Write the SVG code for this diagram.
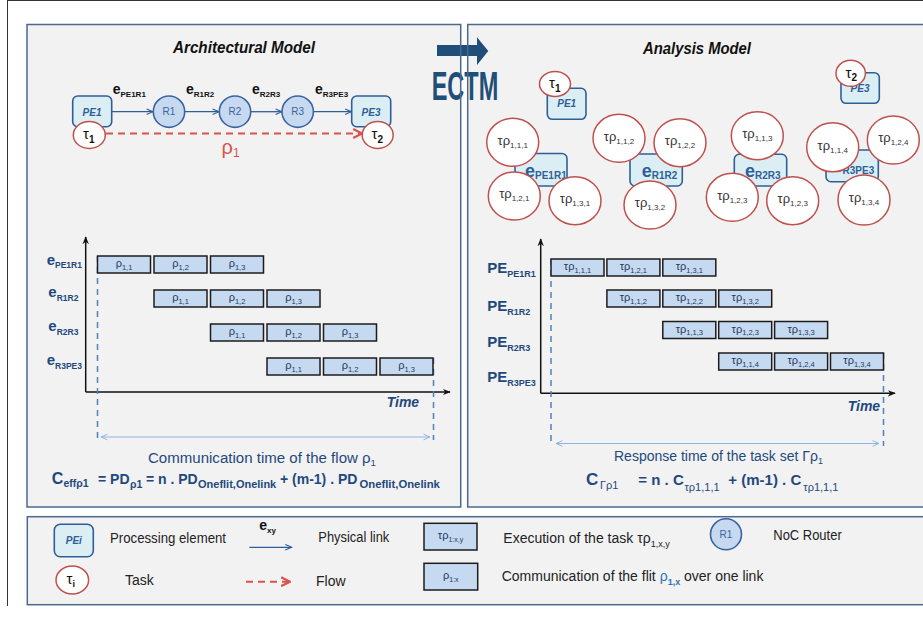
<svg xmlns="http://www.w3.org/2000/svg" width="923" height="622" viewBox="0 0 923 622">
<style>
.t{font-family:'Liberation Sans',Arial,sans-serif}
.pf{fill:#f2f2f2}
.pb{fill:none;stroke:#4a6890;stroke-width:1.5}
.pe{fill:#dbeef4;stroke:#2f5f98;stroke-width:1.6}
.pet{font-family:'Liberation Sans',Arial,sans-serif;font-style:italic;font-weight:bold;font-size:10px;fill:#2f5f98}
.task{fill:#fff;stroke:#c0504d;stroke-width:1.5}
.tt{font-family:'Liberation Sans',Arial,sans-serif;font-size:15px;fill:#111}
.rt{fill:#c6d9f1;stroke:#3a64a0;stroke-width:1.6}
.rtt{font-family:'Liberation Sans',Arial,sans-serif;font-size:10px;fill:#3a64a0}
.bar{fill:#c5d9f0;stroke:#1c1c1c;stroke-width:1.5}
.bt{font-family:'Liberation Sans',Arial,sans-serif;font-size:11px;fill:#1f3a60;text-anchor:middle}
.ct{font-family:'Liberation Sans',Arial,sans-serif;font-size:13px;fill:#333;text-anchor:middle}
.lnk{stroke:#2f5f98;stroke-width:1.3;fill:none}
.flow{stroke:#d9534f;stroke-width:2;stroke-dasharray:7 5;fill:none}
.axis{stroke:#111;stroke-width:1.5;fill:none}
.vd{stroke:#4f81bd;stroke-width:1.5;stroke-dasharray:6 5;fill:none}
.dbl{stroke:#8eb4e3;stroke-width:1.2;fill:none}
.bold{font-weight:bold}
.el{font-family:'Liberation Sans',Arial,sans-serif;font-weight:bold;font-size:14px;fill:#111}
.rowl{font-family:'Liberation Sans',Arial,sans-serif;font-weight:bold;font-size:15px;fill:#1f497d}
.eb{font-family:'Liberation Sans',Arial,sans-serif;font-weight:bold;font-size:18px;fill:#2f5f98}
.lg{font-family:'Liberation Sans',Arial,sans-serif;font-size:14px;fill:#222}
</style>
<defs>
<marker id="mLnk" viewBox="0 0 10 10" refX="9" refY="5" markerWidth="8" markerHeight="8" markerUnits="userSpaceOnUse" orient="auto"><path d="M1,1.5 L9,5 L1,8.5" fill="none" stroke="#2f5f98" stroke-width="1.4"/></marker>
<marker id="mFlow" viewBox="0 0 10 10" refX="9" refY="5" markerWidth="11" markerHeight="11" markerUnits="userSpaceOnUse" orient="auto"><path d="M1,1 L9,5 L1,9" fill="none" stroke="#d9534f" stroke-width="2"/></marker>
<marker id="mAx" viewBox="0 0 10 10" refX="9" refY="5" markerWidth="8" markerHeight="8" markerUnits="userSpaceOnUse" orient="auto"><path d="M0,1 L10,5 L0,9 L3,5 Z" fill="#111"/></marker>
<marker id="mDbl" viewBox="0 0 10 10" refX="9" refY="5" markerWidth="8" markerHeight="8" markerUnits="userSpaceOnUse" orient="auto-start-reverse"><path d="M1,1.5 L9,5 L1,8.5" fill="none" stroke="#8eb4e3" stroke-width="1.2"/></marker>
</defs>
<rect width="923" height="622" fill="#fff"/>
<line x1="7.5" y1="0" x2="7.5" y2="606" stroke="#333" stroke-width="1"/>
<line x1="7.5" y1="0.5" x2="923" y2="0.5" stroke="#333" stroke-width="1"/>

<!-- panels -->
<rect class="pf" x="27" y="24.5" width="433.7" height="482.5"/>
<rect class="pf" x="467.7" y="24.5" width="460" height="482.5"/>
<rect class="pf" x="27.3" y="516.7" width="900" height="88"/>

<!-- ECTM -->
<g id="ectm">
<polygon points="437,45 477,45 477,37.3 488.3,51 477,65 477,56 437,56" fill="#1f4e79"/>
<text class="t bold" x="431.7" y="100" font-size="40" fill="#1f4e79" textLength="66.6" lengthAdjust="spacingAndGlyphs">ECTM</text>
</g>
<rect class="pb" x="27" y="24.5" width="433.7" height="482.5"/>
<rect class="pb" x="467.7" y="24.5" width="460" height="482.5"/>
<rect class="pb" x="27.3" y="516.7" width="900" height="88"/>

<!-- titles -->
<text class="t bold" x="173" y="53" font-size="16" font-style="italic" fill="#111" textLength="142" lengthAdjust="spacingAndGlyphs">Architectural Model</text>
<text class="t bold" x="643" y="54" font-size="16" font-style="italic" fill="#111" textLength="108" lengthAdjust="spacingAndGlyphs">Analysis Model</text>

<!-- connectors (architectural model) -->
<g id="connectors">
<line class="lnk" x1="111.7" y1="111.7" x2="153" y2="111.7" marker-end="url(#mLnk)"/>
<line class="lnk" x1="185" y1="111.7" x2="219" y2="111.7" marker-end="url(#mLnk)"/>
<line class="lnk" x1="251" y1="111.7" x2="282" y2="111.7" marker-end="url(#mLnk)"/>
<line class="lnk" x1="313.5" y1="111.7" x2="351.5" y2="111.7" marker-end="url(#mLnk)"/>
<line class="flow" x1="106" y1="133.5" x2="362" y2="133.5" marker-end="url(#mFlow)"/>
</g>
<text class="el" x="112.7" y="94">e<tspan dy="3" font-size="8">PE1R1</tspan></text>
<text class="el" x="186" y="94">e<tspan dy="3" font-size="8">R1R2</tspan></text>
<text class="el" x="252" y="94">e<tspan dy="3" font-size="8">R2R3</tspan></text>
<text class="el" x="315" y="94">e<tspan dy="3" font-size="8">R3PE3</tspan></text>
<text class="t" x="221.5" y="153.5" font-size="20" fill="#d9534f">ρ<tspan dy="3.5" font-size="12">1</tspan></text>

<g id="a-pe1"><rect class="pe" x="72.7" y="96" width="39" height="30.7" rx="5"/><text class="pet" x="92" y="115.5" text-anchor="middle">PE1</text></g>
<g id="a-tau1"><ellipse class="task" cx="89.3" cy="135" rx="16" ry="13.5"/><text class="tt" x="83" y="139">τ<tspan dy="3.5" font-size="10" font-weight="bold">1</tspan></text></g>
<g id="a-r1"><circle class="rt" cx="169" cy="111.7" r="15.7"/><text class="rtt" x="169" y="115.3" text-anchor="middle">R1</text></g>
<g id="a-r2"><circle class="rt" cx="235" cy="111.7" r="15.7"/><text class="rtt" x="235" y="115.3" text-anchor="middle">R2</text></g>
<g id="a-r3"><circle class="rt" cx="297.7" cy="111.7" r="15.7"/><text class="rtt" x="297.7" y="115.3" text-anchor="middle">R3</text></g>
<g id="a-pe3"><rect class="pe" x="351.7" y="96" width="39" height="30.7" rx="5"/><text class="pet" x="371" y="115.5" text-anchor="middle">PE3</text></g>
<g id="a-tau2"><ellipse class="task" cx="377.7" cy="135" rx="15.5" ry="13.5"/><text class="tt" x="371.5" y="139">τ<tspan dy="3.5" font-size="10" font-weight="bold">2</tspan></text></g>

<!-- left gantt -->
<g id="left-gantt">
<line class="axis" x1="85.7" y1="392" x2="85.7" y2="237" marker-end="url(#mAx)"/>
<line class="axis" x1="85.7" y1="392" x2="450" y2="392" marker-end="url(#mAx)"/>
<line class="vd" x1="97.5" y1="256" x2="97.5" y2="440"/>
<line class="vd" x1="433.5" y1="358" x2="433.5" y2="440"/>
<line class="dbl" x1="101" y1="437" x2="430" y2="437" marker-start="url(#mDbl)" marker-end="url(#mDbl)"/>
<text class="rowl" x="46.7" y="264.5">e<tspan dy="3.5" font-size="8.5">PE1R1</tspan></text>
<text class="rowl" x="48.3" y="297">e<tspan dy="3.5" font-size="8.5">R1R2</tspan></text>
<text class="rowl" x="48.3" y="331">e<tspan dy="3.5" font-size="8.5">R2R3</tspan></text>
<text class="rowl" x="46.7" y="365">e<tspan dy="3.5" font-size="8.5">R3PE3</tspan></text>
<rect class="bar" x="97.5" y="256" width="53" height="17"/><text class="bt" x="124" y="267">ρ<tspan dy="2.5" font-size="7.5">1,1</tspan></text>
<rect class="bar" x="154" y="256" width="53" height="17"/><text class="bt" x="180.5" y="267">ρ<tspan dy="2.5" font-size="7.5">1,2</tspan></text>
<rect class="bar" x="210.5" y="256" width="53" height="17"/><text class="bt" x="237" y="267">ρ<tspan dy="2.5" font-size="7.5">1,3</tspan></text>
<rect class="bar" x="154" y="290" width="53" height="17"/><text class="bt" x="180.5" y="301">ρ<tspan dy="2.5" font-size="7.5">1,1</tspan></text>
<rect class="bar" x="210.5" y="290" width="53" height="17"/><text class="bt" x="237" y="301">ρ<tspan dy="2.5" font-size="7.5">1,2</tspan></text>
<rect class="bar" x="267" y="290" width="53" height="17"/><text class="bt" x="293.5" y="301">ρ<tspan dy="2.5" font-size="7.5">1,3</tspan></text>
<rect class="bar" x="210.5" y="324" width="53" height="17"/><text class="bt" x="237" y="335">ρ<tspan dy="2.5" font-size="7.5">1,1</tspan></text>
<rect class="bar" x="267" y="324" width="53" height="17"/><text class="bt" x="293.5" y="335">ρ<tspan dy="2.5" font-size="7.5">1,2</tspan></text>
<rect class="bar" x="323.5" y="324" width="53" height="17"/><text class="bt" x="350" y="335">ρ<tspan dy="2.5" font-size="7.5">1,3</tspan></text>
<rect class="bar" x="267" y="358" width="53" height="17"/><text class="bt" x="293.5" y="369">ρ<tspan dy="2.5" font-size="7.5">1,1</tspan></text>
<rect class="bar" x="323.5" y="358" width="53" height="17"/><text class="bt" x="350" y="369">ρ<tspan dy="2.5" font-size="7.5">1,2</tspan></text>
<rect class="bar" x="380" y="358" width="53" height="17"/><text class="bt" x="406.5" y="369">ρ<tspan dy="2.5" font-size="7.5">1,3</tspan></text>
<text class="t bold" x="386.7" y="406.5" font-size="14" font-style="italic" fill="#1f497d">Time</text>
</g>
<text class="t" x="148" y="463" font-size="14" fill="#1f497d" textLength="228" lengthAdjust="spacingAndGlyphs">Communication time of the flow ρ<tspan dy="3" font-size="9">1</tspan></text>
<text class="t bold" y="483.5" font-size="14" fill="#1f497d"><tspan x="51.7" font-size="16">C</tspan><tspan x="63.5" dy="3.5" font-size="10.5">effρ1</tspan><tspan x="98" dy="-3.5">= PD</tspan><tspan x="130" dy="4" font-size="10.5">ρ1</tspan><tspan x="146" dy="-4">= n . PD</tspan><tspan x="198" dy="4" font-size="11">Oneflit,Onelink</tspan><tspan x="280" dy="-4">+ (m-1) . PD</tspan><tspan x="359.5" dy="4" font-size="11.3">Oneflit,Onelink</tspan></text>

<!-- right analysis model: boxes -->
<g id="b-pe1"><rect class="pe" x="547.3" y="88.3" width="38.7" height="31" rx="5"/><text class="pet" x="566.7" y="107.3" text-anchor="middle">PE1</text></g>
<g id="b-pe3"><rect class="pe" x="841" y="72.7" width="38.3" height="30.6" rx="5"/><text class="pet" x="860" y="92" text-anchor="middle">PE3</text></g>
<g id="b-e1"><rect class="pe" x="515" y="153.5" width="52" height="32.5" rx="5"/><text class="eb" x="525" y="177">e<tspan dy="2" font-size="10">PE1R1</tspan></text></g>
<g id="b-e2"><rect class="pe" x="630" y="154" width="52.3" height="32" rx="5"/><text class="eb" x="641.7" y="177">e<tspan dy="2" font-size="10">R1R2</tspan></text></g>
<g id="b-e3"><rect class="pe" x="734.3" y="154.3" width="52.4" height="31.7" rx="5"/><text class="eb" x="745" y="177">e<tspan dy="2" font-size="10">R2R3</tspan></text></g>
<g id="b-e4"><rect class="pe" x="826" y="150" width="52.3" height="31.7" rx="5"/><text class="eb" x="832.5" y="172">e<tspan dy="2" font-size="10">R3PE3</tspan></text></g>
<g id="b-tau1"><ellipse class="task" cx="555" cy="84" rx="15.5" ry="12.5"/><text class="tt" x="549" y="88">τ<tspan dy="3.5" font-size="10" font-weight="bold">1</tspan></text></g>
<g id="b-tau2"><ellipse class="task" cx="850.7" cy="73.3" rx="14.7" ry="13"/><text class="tt" x="845.5" y="77.5">τ<tspan dy="3.5" font-size="10" font-weight="bold">2</tspan></text></g>
<g id="c111"><ellipse class="task" cx="512.7" cy="142.3" rx="26" ry="24"/><text class="ct" x="512.7" y="144.5">τρ<tspan dy="3" font-size="8">1,1,1</tspan></text></g>
<g id="c121"><ellipse class="task" cx="514.3" cy="196" rx="26" ry="24"/><text class="ct" x="514.3" y="198.2">τρ<tspan dy="3" font-size="8">1,2,1</tspan></text></g>
<g id="c131"><ellipse class="task" cx="575" cy="200.7" rx="26" ry="24"/><text class="ct" x="575" y="202.9">τρ<tspan dy="3" font-size="8">1,3,1</tspan></text></g>
<g id="c112"><ellipse class="task" cx="619" cy="138.3" rx="26" ry="24"/><text class="ct" x="619" y="140.5">τρ<tspan dy="3" font-size="8">1,1,2</tspan></text></g>
<g id="c122"><ellipse class="task" cx="680" cy="142.7" rx="26" ry="24"/><text class="ct" x="680" y="144.9">τρ<tspan dy="3" font-size="8">1,2,2</tspan></text></g>
<g id="c132"><ellipse class="task" cx="650" cy="205" rx="26" ry="24"/><text class="ct" x="650" y="207.2">τρ<tspan dy="3" font-size="8">1,3,2</tspan></text></g>
<g id="c113"><ellipse class="task" cx="757.3" cy="135.7" rx="26" ry="24"/><text class="ct" x="757.3" y="137.9">τρ<tspan dy="3" font-size="8">1,1,3</tspan></text></g>
<g id="c123"><ellipse class="task" cx="732.3" cy="197.3" rx="26" ry="24"/><text class="ct" x="732.3" y="199.5">τρ<tspan dy="3" font-size="8">1,2,3</tspan></text></g>
<g id="c123b"><ellipse class="task" cx="792.7" cy="200.7" rx="26" ry="24"/><text class="ct" x="792.7" y="202.9">τρ<tspan dy="3" font-size="8">1,2,3</tspan></text></g>
<g id="c114"><ellipse class="task" cx="832.7" cy="147.3" rx="26" ry="24.5"/><text class="ct" x="832.7" y="149.5">τρ<tspan dy="3" font-size="8">1,1,4</tspan></text></g>
<g id="c124"><ellipse class="task" cx="893.3" cy="140" rx="26" ry="24"/><text class="ct" x="893.3" y="142.2">τρ<tspan dy="3" font-size="8">1,2,4</tspan></text></g>
<g id="c134"><ellipse class="task" cx="864" cy="200" rx="26" ry="25"/><text class="ct" x="864" y="202.2">τρ<tspan dy="3" font-size="8">1,3,4</tspan></text></g>

<!-- right gantt -->
<g id="right-gantt">
<line class="axis" x1="540.7" y1="393.3" x2="540.7" y2="239" marker-end="url(#mAx)"/>
<line class="axis" x1="540.7" y1="393.3" x2="895" y2="393.3" marker-end="url(#mAx)"/>
<line class="vd" x1="551" y1="259" x2="551" y2="446"/>
<line class="vd" x1="883.5" y1="353" x2="883.5" y2="446"/>
<line class="dbl" x1="556" y1="443.5" x2="879" y2="443.5" marker-start="url(#mDbl)" marker-end="url(#mDbl)"/>
<text class="rowl" x="487.3" y="273.3">PE<tspan dy="4" font-size="9">PE1R1</tspan></text>
<text class="rowl" x="487.3" y="311">PE<tspan dy="4" font-size="9">R1R2</tspan></text>
<text class="rowl" x="487.3" y="346.7">PE<tspan dy="4" font-size="9">R2R3</tspan></text>
<text class="rowl" x="487.3" y="381.7">PE<tspan dy="4" font-size="9">R3PE3</tspan></text>
<rect class="bar" x="551" y="259" width="53" height="17"/><text class="bt" x="577.5" y="270">τρ<tspan dy="2.5" font-size="7.5">1,1,1</tspan></text>
<rect class="bar" x="606.9" y="259" width="53" height="17"/><text class="bt" x="633.4" y="270">τρ<tspan dy="2.5" font-size="7.5">1,2,1</tspan></text>
<rect class="bar" x="662.8" y="259" width="53" height="17"/><text class="bt" x="689.3" y="270">τρ<tspan dy="2.5" font-size="7.5">1,3,1</tspan></text>
<rect class="bar" x="606.9" y="290" width="53" height="17"/><text class="bt" x="633.4" y="301">τρ<tspan dy="2.5" font-size="7.5">1,1,2</tspan></text>
<rect class="bar" x="662.8" y="290" width="53" height="17"/><text class="bt" x="689.3" y="301">τρ<tspan dy="2.5" font-size="7.5">1,2,2</tspan></text>
<rect class="bar" x="718.7" y="290" width="53" height="17"/><text class="bt" x="745.2" y="301">τρ<tspan dy="2.5" font-size="7.5">1,3,2</tspan></text>
<rect class="bar" x="662.8" y="321.5" width="53" height="17"/><text class="bt" x="689.3" y="332.5">τρ<tspan dy="2.5" font-size="7.5">1,1,3</tspan></text>
<rect class="bar" x="718.7" y="321.5" width="53" height="17"/><text class="bt" x="745.2" y="332.5">τρ<tspan dy="2.5" font-size="7.5">1,2,3</tspan></text>
<rect class="bar" x="774.6" y="321.5" width="53" height="17"/><text class="bt" x="801.1" y="332.5">τρ<tspan dy="2.5" font-size="7.5">1,3,3</tspan></text>
<rect class="bar" x="718.7" y="353" width="53" height="17"/><text class="bt" x="745.2" y="364">τρ<tspan dy="2.5" font-size="7.5">1,1,4</tspan></text>
<rect class="bar" x="774.6" y="353" width="53" height="17"/><text class="bt" x="801.1" y="364">τρ<tspan dy="2.5" font-size="7.5">1,2,4</tspan></text>
<rect class="bar" x="830.5" y="353" width="53" height="17"/><text class="bt" x="857" y="364">τρ<tspan dy="2.5" font-size="7.5">1,3,4</tspan></text>
<text class="t bold" x="847.7" y="410.7" font-size="14" font-style="italic" fill="#1f497d">Time</text>
</g>
<text class="t" x="614" y="460.7" font-size="14" fill="#1f497d" textLength="209" lengthAdjust="spacingAndGlyphs">Response time of the task set Γρ<tspan dy="3" font-size="9">1</tspan></text>
<text class="t bold" y="485" font-size="15" fill="#1f497d"><tspan x="586" font-size="17">C</tspan><tspan x="600" dy="4" font-size="11" font-weight="normal">Γρ1</tspan><tspan x="638.3" dy="-4">= n . C</tspan><tspan x="684.5" dy="6" font-size="11" font-weight="normal">τρ1,1,1</tspan><tspan x="728.3" dy="-6">+ (m-1) . C</tspan><tspan x="803.3" dy="6" font-size="11" font-weight="normal">τρ1,1,1</tspan></text>

<!-- legend -->
<g id="legend">
<g id="lg-pe"><rect class="pe" x="54.3" y="524.3" width="39" height="32.4" rx="6"/><text class="pet" x="73.8" y="543.5" text-anchor="middle">PEi</text></g>
<g id="lg-task"><ellipse class="task" cx="72.3" cy="580" rx="16.3" ry="14"/><text class="tt" x="66.5" y="583.5">τ<tspan dy="3.5" font-size="9" font-weight="bold">i</tspan></text></g>
<text class="lg" x="110" y="543.3" textLength="116" lengthAdjust="spacingAndGlyphs">Processing element</text>
<text class="lg" x="125" y="585">Task</text>
<text class="el" x="259.3" y="529.5">e<tspan dy="3" font-size="8">xy</tspan></text>
<line class="lnk" x1="249.3" y1="547.3" x2="291.7" y2="547.3" marker-end="url(#mLnk)"/>
<text class="lg" x="318.3" y="542.3" textLength="71" lengthAdjust="spacingAndGlyphs">Physical link</text>
<line class="flow" x1="246" y1="581.7" x2="290" y2="581.7" stroke-dasharray="6 5" marker-end="url(#mFlow)"/>
<text class="lg" x="316" y="586">Flow</text>
<g id="lg-exec"><rect class="bar" x="424" y="523.3" width="53" height="26.7"/><text class="bt" x="450.5" y="539">τρ<tspan dy="2.5" font-size="7">1:x,y</tspan></text></g>
<g id="lg-comm"><rect class="bar" x="424" y="563.3" width="53.7" height="26.7"/><text class="bt" x="450.8" y="579">ρ<tspan dy="2.5" font-size="7">1:x</tspan></text></g>
<text class="lg" x="503.3" y="543.3" font-size="13.6">Execution of the task τρ<tspan dy="3.5" font-size="9">1,x,y</tspan></text>
<text class="lg" x="501.7" y="581" font-size="13.6">Communication of the flit <tspan fill="#2e75b6">ρ</tspan><tspan dy="3.5" font-size="9" font-weight="bold" fill="#2e75b6">1,x</tspan><tspan dy="-3.5"> over one link</tspan></text>
<g id="lg-router"><circle class="rt" cx="726" cy="534.3" r="15.5" stroke="#2f5f98"/><text class="rtt" x="726" y="538" text-anchor="middle">R1</text></g>
<text class="lg" x="773.3" y="540" textLength="68.4" lengthAdjust="spacingAndGlyphs">NoC Router</text>
</g>
</svg>
